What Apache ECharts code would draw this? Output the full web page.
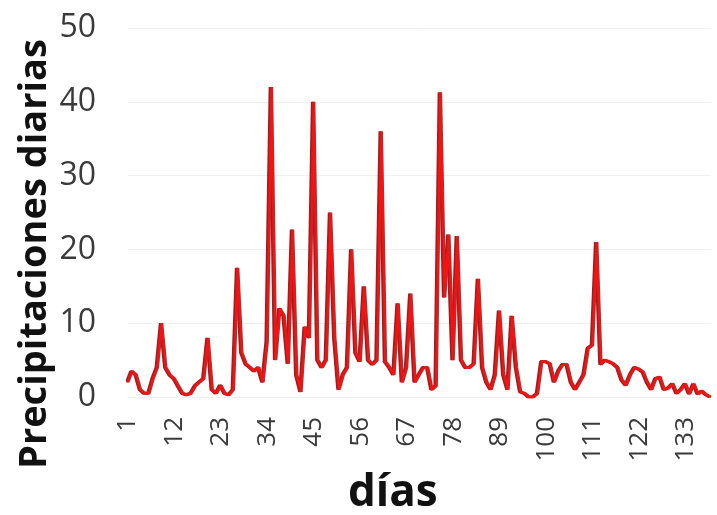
<!DOCTYPE html>
<html>
<head>
<meta charset="utf-8">
<script src="https://cdn.jsdelivr.net/npm/echarts@6/dist/echarts.min.js"></script>
<style>
  html, body { margin: 0; padding: 0; background: #fff; }
  #chart { width: 717px; height: 515px; }
</style>
</head>
<body>
<div id="chart"></div>
<script>
// daily precipitation (days 1..139)
const rain = [
  2, 3.5, 3, 1, 0.5, 0.5, 2.5, 4, 10, 4,
  3, 2.5, 1.5, 0.5, 0.3, 0.5, 1.5, 2, 2.5, 8,
  1, 0.5, 1.6, 0.5, 0.3, 1, 17.5, 6, 4.5, 4,
  3.5, 4, 2, 7.5, 42, 5, 12, 11, 4.5, 22.7,
  3, 0.7, 9.5, 8, 40, 5, 4, 5, 25, 8,
  1, 3, 4, 20, 6, 4.8, 15, 5, 4.4, 5,
  36, 4.8, 4, 3, 12.7, 2, 4, 14, 2, 3,
  4, 4, 1, 1.5, 41.3, 13.5, 22, 5, 21.8, 5,
  4, 4, 4.5, 16, 4, 2, 1, 3, 11.7, 3,
  1, 11, 4, 0.7, 0.5, 0, 0, 0.5, 4.8, 4.8,
  4.5, 2, 3.5, 4.4, 4.4, 2, 1, 2, 3, 6.6,
  7, 21, 4.4, 5, 4.8, 4.5, 4, 2.3, 1.6, 3,
  4, 3.8, 3.4, 2, 1, 2.5, 2.7, 1, 1.2, 1.8,
  0.5, 1, 1.8, 0.4, 1.8, 0.4, 0.8, 0.3, 0
];
const days = rain.map((_, i) => String(i + 1));
const yTicks = [0, 10, 20, 30, 40, 50];

const chart = echarts.init(document.getElementById('chart'));

chart.setOption({
  animation: false,
  backgroundColor: '#fff',
  title: {
    text: 'días',
    left: 343,
    top: 466,
    textStyle: { fontFamily: 'Open Sans', fontWeight: 'bold', fontSize: 44, color: '#111' }
  },
  graphic: [{
    type: 'text',
    x: 35,
    y: 254,
    rotation: Math.PI / 2,
    style: {
      text: 'Precipitaciones diarias',
      fontFamily: 'Open Sans',
      fontWeight: 'bold',
      fontSize: 38,
      fill: '#111',
      align: 'center',
      verticalAlign: 'middle'
    }
  }],
  grid: { left: 128, right: 6, top: 28, bottom: 118 },
  xAxis: {
    type: 'category',
    data: days,
    boundaryGap: false,
    axisLine: { show: false },
    axisTick: { show: false },
    axisLabel: {
      interval: 10,
      rotate: 90,
      margin: 20,
      fontFamily: 'Open Sans',
      fontSize: 26,
      color: '#3a3a3a'
    }
  },
  yAxis: {
    type: 'value',
    min: yTicks[0],
    max: yTicks[yTicks.length - 1],
    interval: 10,
    axisLine: { show: false },
    axisTick: { show: false },
    splitLine: { lineStyle: { color: '#f0f0f0', width: 1 } },
    axisLabel: {
      margin: 32,
      fontFamily: 'Open Sans',
      fontSize: 32,
      color: '#3a3a3a'
    }
  },
  series: [{
    type: 'line',
    data: rain,
    showSymbol: false,
    lineStyle: {
      color: '#f41212',
      width: 3,
      shadowColor: 'rgba(100, 25, 25, 0.9)',
      shadowBlur: 0,
      shadowOffsetX: -1.5
    }
  }]
});
</script>
</body>
</html>
